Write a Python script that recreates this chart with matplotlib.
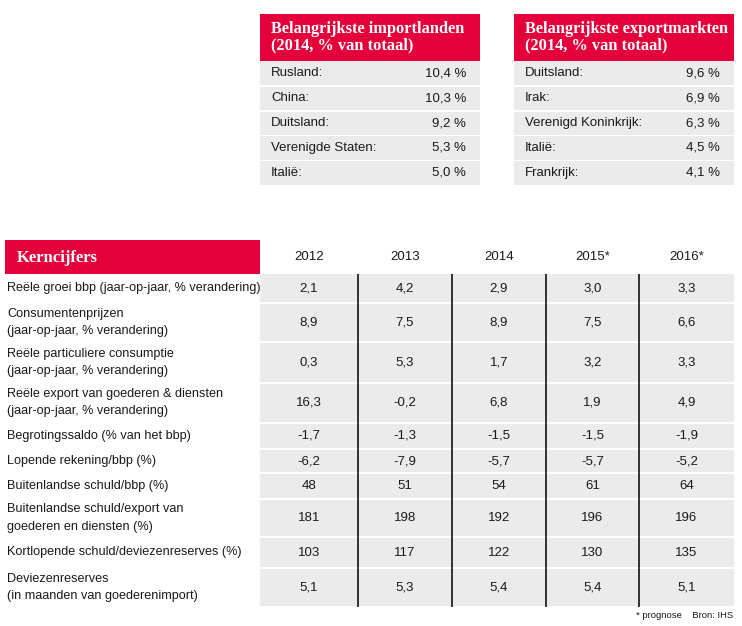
import matplotlib
matplotlib.use("Agg")
import matplotlib.pyplot as plt
from matplotlib.patches import Rectangle

# ---------------- data ----------------
import_countries = ["Rusland:", "China:", "Duitsland:", "Verenigde Staten:", "Italië:"]
import_shares = [10.4, 10.3, 9.2, 5.3, 5.0]
export_countries = ["Duitsland:", "Irak:", "Verenigd Koninkrijk:", "Italië:", "Frankrijk:"]
export_shares = [9.6, 6.9, 6.3, 4.5, 4.1]

years = ["2012", "2013", "2014", "2015*", "2016*"]
indicators = [
    "Reële groei bbp (jaar-op-jaar, % verandering)",
    "Consumentenprijzen\n(jaar-op-jaar, % verandering)",
    "Reële particuliere consumptie\n(jaar-op-jaar, % verandering)",
    "Reële export van goederen & diensten\n(jaar-op-jaar, % verandering)",
    "Begrotingssaldo (% van het bbp)",
    "Lopende rekening/bbp (%)",
    "Buitenlandse schuld/bbp (%)",
    "Buitenlandse schuld/export van\ngoederen en diensten (%)",
    "Kortlopende schuld/deviezenreserves (%)",
    "Deviezenreserves\n(in maanden van goederenimport)",
]
values = [
    [2.1, 4.2, 2.9, 3.0, 3.3],
    [8.9, 7.5, 8.9, 7.5, 6.6],
    [0.3, 5.3, 1.7, 3.2, 3.3],
    [16.3, -0.2, 6.8, 1.9, 4.9],
    [-1.7, -1.3, -1.5, -1.5, -1.9],
    [-6.2, -7.9, -5.7, -5.7, -5.2],
    [48, 51, 54, 61, 64],
    [181, 198, 192, 196, 196],
    [103, 117, 122, 130, 135],
    [5.1, 5.3, 5.4, 5.4, 5.1],
]
decimals = [1, 1, 1, 1, 1, 1, 0, 0, 0, 1]

# ---------------- style / layout ----------------
RED = "#E4003A"
GREY = "#EBEBEB"
TXT = "#1a1a1a"
SANS = ["Liberation Sans Narrow", "Liberation Sans", "DejaVu Sans"]
SERIF = ["Liberation Serif", "DejaVu Serif"]


def fmt(v, d):
    s = f"{v:.{d}f}"
    return s.replace(".", ",")


W, H = 742, 626
fig = plt.figure(figsize=(W / 100, H / 100), dpi=100)
ax = fig.add_axes([0, 0, 1, 1])
ax.set_xlim(0, W)
ax.set_ylim(H, 0)
ax.axis("off")

# ---- small boxes ----
def small_box(x0, x1, title, names, shares, val_x):
    ax.add_patch(Rectangle((x0, 14), x1 - x0, 47, color=RED, lw=0))
    ax.text(x0 + 11, 37, title, color="white", fontsize=11.8, fontweight="bold",
            family=SERIF, va="center", ha="left", linespacing=1.05)
    rh = 24.8
    for i, (n, s) in enumerate(zip(names, shares)):
        top = 61 + i * rh
        ax.add_patch(Rectangle((x0, top + (1 if i else 0)), x1 - x0,
                               rh - (1 if i else 0) - 0.5, color=GREY, lw=0))
        cy = top + rh / 2
        ax.text(x0 + 11, cy, n, color=TXT, fontsize=9.5, family=SANS,
                va="center", ha="left")
        ax.text(val_x, cy, fmt(s, 1) + " %", color=TXT, fontsize=9.5,
                family=SANS, va="center", ha="right")


small_box(260, 480, "Belangrijkste importlanden\n(2014, % van totaal)",
          import_countries, import_shares, 466)
small_box(514, 734, "Belangrijkste exportmarkten\n(2014, % van totaal)",
          export_countries, export_shares, 720)

# ---- main table ----
row_edges = [274, 303, 342, 382.5, 423, 449, 473, 499, 537, 568, 607]
col_edges = [260, 358, 452, 546, 639, 734]

ax.add_patch(Rectangle((5, 240), 255, 34, color=RED, lw=0))
ax.text(17, 257.5, "Kerncijfers", color="white", fontsize=12,
        fontweight="bold", family=SERIF, va="center", ha="left")

for j, y in enumerate(years):
    cx = (col_edges[j] + col_edges[j + 1]) / 2
    ax.text(cx, 257.5, y, color=TXT, fontsize=9.5, family=SANS,
            va="center", ha="center")

for i, lab in enumerate(indicators):
    top, bot = row_edges[i], row_edges[i + 1]
    gap = 1 if i else 0
    ax.add_patch(Rectangle((col_edges[0], top + gap), col_edges[-1] - col_edges[0],
                           bot - top - gap - 1, color=GREY, lw=0))
    cy = (top + bot) / 2
    ax.text(7, cy, lab, color=TXT, fontsize=9.1, family=SANS, va="center",
            ha="left", linespacing=1.6)
    for j, v in enumerate(values[i]):
        cx = (col_edges[j] + col_edges[j + 1]) / 2
        ax.text(cx, cy, fmt(v, decimals[i]), color=TXT, fontsize=9.5,
                family=SANS, va="center", ha="center")

for x in col_edges[1:-1]:
    ax.plot([x, x], [row_edges[0], row_edges[-1]], color="black", lw=1.1,
            solid_capstyle="butt")

ax.text(733, 616, "* prognose    Bron: IHS", color=TXT, fontsize=6.8,
        family=SANS, va="center", ha="right")

fig.savefig("out.png", dpi=100)
